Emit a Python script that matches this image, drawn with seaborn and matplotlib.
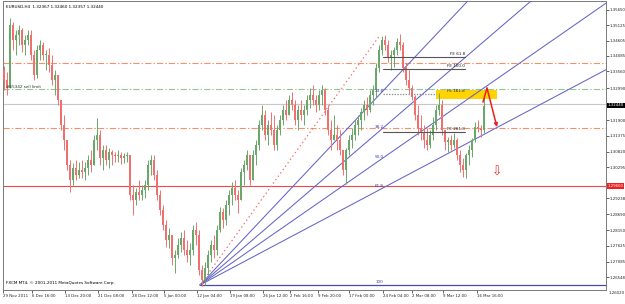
import numpy as np
import pandas as pd
import matplotlib
matplotlib.use("Agg")
import matplotlib.pyplot as plt
from matplotlib.patches import Rectangle
import seaborn as sns

sns.set_theme(style="white")
plt.rcParams['font.family'] = ['DejaVu Sans']
plt.rcParams['lines.scale_dashes'] = False

# ---------------- data (EURUSD H4, sampled every 3 bars) ----------------
first_open = 1.3360
highs = [1.3374, 1.3353, 1.3537, 1.3523, 1.3496, 1.3513, 1.3503, 1.3479, 1.3496, 1.3496,
         1.3428, 1.3445, 1.3462, 1.3455, 1.3428, 1.3435, 1.3411, 1.3360, 1.3309, 1.3258,
         1.3207, 1.3122, 1.3054, 1.3044, 1.3054, 1.3047, 1.3054, 1.3047, 1.3071, 1.3088,
         1.3139, 1.3197, 1.3156, 1.3105, 1.3105, 1.3095, 1.3088, 1.3081, 1.3088, 1.3081,
         1.3078, 1.3081, 1.3071, 1.2969, 1.2959, 1.2986, 1.2969, 1.2986, 1.3054, 1.3071,
         1.3071, 1.3020, 1.2952, 1.2901, 1.2850, 1.2823, 1.2782, 1.2748, 1.2789, 1.2809,
         1.2816, 1.2782, 1.2772, 1.2833, 1.2843, 1.2816, 1.2697, 1.2707, 1.2748, 1.2782,
         1.2799, 1.2833, 1.2894, 1.2891, 1.2918, 1.2952, 1.2979, 1.2986, 1.2952, 1.3027,
         1.3054, 1.3088, 1.3061, 1.3088, 1.3122, 1.3190, 1.3241, 1.3224, 1.3190, 1.3217,
         1.3207, 1.3173, 1.3207, 1.3241, 1.3258, 1.3275, 1.3285, 1.3258, 1.3241, 1.3258,
         1.3241, 1.3275, 1.3299, 1.3309, 1.3275, 1.3292, 1.3309, 1.3299, 1.3241, 1.3190,
         1.3207, 1.3173, 1.3156, 1.3088, 1.3095, 1.3139, 1.3163, 1.3190, 1.3207, 1.3231,
         1.3258, 1.3268, 1.3292, 1.3309, 1.3384, 1.3445, 1.3476, 1.3479, 1.3462, 1.3428,
         1.3438, 1.3469, 1.3482, 1.3455, 1.3384, 1.3360, 1.3309, 1.3275, 1.3241, 1.3207,
         1.3173, 1.3163, 1.3156, 1.3200, 1.3241, 1.3282, 1.3258, 1.3156, 1.3132, 1.3139,
         1.3146, 1.3129, 1.3088, 1.3061, 1.3078, 1.3105, 1.3129, 1.3183, 1.3190, 1.3173,
         1.3268]
lows = [1.3292, 1.3275, 1.3299, 1.3428, 1.3411, 1.3445, 1.3421, 1.3411, 1.3445, 1.3394,
        1.3326, 1.3333, 1.3394, 1.3394, 1.3360, 1.3353, 1.3309, 1.3275, 1.3241, 1.3156,
        1.3088, 1.3020, 1.2945, 1.2969, 1.2986, 1.2993, 1.2993, 1.2986, 1.3003, 1.3013,
        1.3037, 1.3088, 1.3037, 1.3020, 1.3037, 1.3027, 1.3037, 1.3047, 1.3047, 1.3040,
        1.3044, 1.3047, 1.2918, 1.2867, 1.2901, 1.2918, 1.2918, 1.2925, 1.2952, 1.3003,
        1.2986, 1.2918, 1.2867, 1.2816, 1.2758, 1.2755, 1.2697, 1.2670, 1.2721, 1.2741,
        1.2731, 1.2707, 1.2697, 1.2731, 1.2765, 1.2663, 1.2626, 1.2629, 1.2663, 1.2707,
        1.2721, 1.2731, 1.2809, 1.2823, 1.2833, 1.2867, 1.2901, 1.2918, 1.2874, 1.2918,
        1.2969, 1.3020, 1.2969, 1.2986, 1.3037, 1.3088, 1.3156, 1.3122, 1.3105, 1.3139,
        1.3088, 1.3088, 1.3139, 1.3173, 1.3190, 1.3207, 1.3224, 1.3173, 1.3156, 1.3190,
        1.3173, 1.3207, 1.3231, 1.3241, 1.3217, 1.3224, 1.3241, 1.3207, 1.3139, 1.3088,
        1.3122, 1.3088, 1.3071, 1.3003, 1.2972, 1.3071, 1.3095, 1.3122, 1.3139, 1.3156,
        1.3190, 1.3207, 1.3217, 1.3241, 1.3268, 1.3353, 1.3411, 1.3428, 1.3387, 1.3360,
        1.3370, 1.3411, 1.3428, 1.3353, 1.3309, 1.3278, 1.3258, 1.3190, 1.3139, 1.3122,
        1.3095, 1.3088, 1.3095, 1.3122, 1.3156, 1.3207, 1.3139, 1.3088, 1.3081, 1.3088,
        1.3095, 1.3054, 1.3013, 1.2996, 1.2993, 1.3037, 1.3065, 1.3115, 1.3149, 1.3132,
        1.3146]
closes = [1.3326, 1.3299, 1.3513, 1.3462, 1.3479, 1.3496, 1.3445, 1.3462, 1.3479, 1.3411,
          1.3343, 1.3428, 1.3445, 1.3411, 1.3411, 1.3377, 1.3326, 1.3343, 1.3258, 1.3173,
          1.3122, 1.3037, 1.2986, 1.3027, 1.3003, 1.3020, 1.3013, 1.3027, 1.3054, 1.3037,
          1.3122, 1.3139, 1.3061, 1.3088, 1.3054, 1.3081, 1.3071, 1.3068, 1.3071, 1.3061,
          1.3068, 1.3071, 1.2935, 1.2918, 1.2945, 1.2935, 1.2952, 1.2969, 1.3037, 1.3054,
          1.3003, 1.2935, 1.2884, 1.2833, 1.2782, 1.2799, 1.2721, 1.2731, 1.2765, 1.2789,
          1.2748, 1.2731, 1.2748, 1.2816, 1.2799, 1.2680, 1.2646, 1.2687, 1.2731, 1.2765,
          1.2748, 1.2816, 1.2877, 1.2850, 1.2901, 1.2935, 1.2959, 1.2935, 1.2918, 1.3013,
          1.3037, 1.3071, 1.2986, 1.3071, 1.3105, 1.3173, 1.3207, 1.3139, 1.3173, 1.3156,
          1.3105, 1.3156, 1.3190, 1.3224, 1.3207, 1.3258, 1.3241, 1.3190, 1.3224, 1.3207,
          1.3224, 1.3258, 1.3275, 1.3258, 1.3241, 1.3275, 1.3292, 1.3224, 1.3156, 1.3122,
          1.3139, 1.3122, 1.3088, 1.3020, 1.3088, 1.3122, 1.3139, 1.3173, 1.3190, 1.3217,
          1.3241, 1.3224, 1.3275, 1.3292, 1.3367, 1.3428, 1.3462, 1.3445, 1.3401, 1.3411,
          1.3428, 1.3455, 1.3445, 1.3367, 1.3326, 1.3299, 1.3268, 1.3207, 1.3163, 1.3149,
          1.3122, 1.3105, 1.3139, 1.3173, 1.3224, 1.3241, 1.3156, 1.3115, 1.3122, 1.3105,
          1.3122, 1.3071, 1.3037, 1.3020, 1.3071, 1.3088, 1.3122, 1.3166, 1.3163, 1.3156,
          1.3238]

date_labels = ["29 Nov 2011", "6 Dec 16:00", "13 Dec 20:00", "21 Dec 08:00", "28 Dec 12:00",
               "5 Jan 00:00", "12 Jan 04:00", "19 Jan 08:00", "26 Jan 12:00", "2 Feb 16:00",
               "9 Feb 20:00", "17 Feb 00:00", "24 Feb 04:00", "2 Mar 08:00", "9 Mar 12:00",
               "16 Mar 16:00"]
date_bars = [0, 29, 62, 95, 129, 161, 194, 227, 260, 287, 315, 346, 380, 409, 440, 474]

price_ticks = [1.35650, 1.35125, 1.34605, 1.34085, 1.33560, 1.32990, 1.31900, 1.31375,
               1.30820, 1.30295, 1.29238, 1.28690, 1.28150, 1.27625, 1.27085, 1.26548]

bid_price = 1.3244
orange_levels = [1.3384, 1.3163]
green_level = 1.3295
red_level = 1.2966

# Fibonacci fan: anchor A (low) and B (high)
fan_a = (197, 1.2629)
fan_b = (377, 1.3479)
fan_levels = [0.236, 0.382, 0.5, 0.618]
fan_texts = ["23.6", "38.2", "50.0", "61.8"]

# Fibonacci expansion
fe_levels = [1.3404, 1.3363, 1.3278, 1.3149]
fe_texts = ["FE 61.8", "FE 100.0", "FE 161.8", "FE 261.8"]
fe_start, fe_end = 380, 462

zone_x = (433, 494)
zone_price = (1.3261, 1.3292)

zig_x = [480, 484, 494]
zig_p = [1.3251, 1.3299, 1.3166]

# ---------------- figure ----------------
RED = '#f07070'
GREEN = '#6aa86a'
BLUE = '#6464c8'
SMALL = 3.0
TICK = 2.8

fig = plt.figure(figsize=(6.25, 3.04), dpi=100)
ax = fig.add_axes([3/625, 1-290/304, 603/625, 289/304])
ax.set_facecolor('white')
XMAX = 603
ax.set_xlim(0, XMAX)
ax.set_ylim(1.2612, 1.3595)

# yellow zone
ax.add_patch(Rectangle((zone_x[0], zone_price[0]), zone_x[1]-zone_x[0],
                       zone_price[1]-zone_price[0], color='#ffd400', lw=0, zorder=1))

# horizontal levels
dashdot = (0, (4.5, 1.5, 1, 1.5))
for lv in orange_levels:
    ax.axhline(lv, color='#f4906a', lw=0.8, ls=dashdot, zorder=2)
ax.axhline(green_level, color='#90c890', lw=0.8, ls=dashdot, zorder=2)
ax.axhline(bid_price, color='#c8c8c8', lw=0.8, zorder=2)
ax.axhline(red_level, color='#f04848', lw=0.8, zorder=2)

# fan lines via seaborn
xa, pa = fan_a
xb, pb = fan_b
rows = []
for lv in fan_levels:
    p_at_b = pb - lv * (pb - pa)
    slope = (p_at_b - pa) / (xb - xa)
    rows.append(dict(level=lv, x=xa, price=pa))
    rows.append(dict(level=lv, x=XMAX, price=pa + slope * (XMAX - xa)))
fan_df = pd.DataFrame(rows)
sns.lineplot(data=fan_df, x='x', y='price', units='level', estimator=None,
             color=BLUE, lw=0.75, ax=ax, zorder=3)
ax.plot([xa, XMAX], [pa, pa], color='#4a4aa8', lw=0.9, zorder=3)
ax.plot([xa, xb], [pa, pb], color='#f07070', lw=0.9, ls=(0, (1, 2)), zorder=3)
for lv, t in zip(fan_levels, fan_texts):
    ax.text(xb + 4, pb - lv * (pb - pa) + 0.0004, t, fontsize=SMALL, color='#3a3aa0',
            ha='right', va='bottom', zorder=6)
ax.text(xb + 3, pa + 0.0004, "100", fontsize=SMALL, color='#3a3aa0', ha='right',
        va='bottom', zorder=6)

# candles
n = len(closes)
xpos = np.arange(n) * 3 + 1
opens = [first_open] + closes[:-1]
df = pd.DataFrame(dict(x=xpos, o=opens, h=highs, l=lows, c=closes))
df['h'] = df[['h', 'o', 'c']].max(axis=1)
df['l'] = df[['l', 'o', 'c']].min(axis=1)
cols = np.where(df.c >= df.o, GREEN, RED)
ax.vlines(df.x, df.l, df.h, colors=cols, lw=0.7, zorder=4)
body = (df.c - df.o).abs().clip(lower=0.00025)
ax.bar(df.x, body, bottom=np.minimum(df.o, df.c), width=2.0, color=cols, lw=0, zorder=4)

# Fibonacci expansion lines
for i, (lv, t) in enumerate(zip(fe_levels, fe_texts)):
    if i == 2:
        ax.plot([fe_start, zone_x[0]], [lv, lv], color='#909090', lw=0.9,
                ls=(0, (1, 1)), zorder=5)
    else:
        ax.plot([fe_start, fe_end], [lv, lv], color='#555555', lw=0.8, zorder=5)
    ax.text(fe_end, lv + 0.0003, t, fontsize=SMALL, color='#202020', ha='right',
            va='bottom', zorder=6)

# red zigzag projection
ax.plot(zig_x[:2], zig_p[:2], color='#e82020', lw=1.1, zorder=6)
ax.annotate('', xy=(zig_x[2], zig_p[2]), xytext=(zig_x[1], zig_p[1]),
            arrowprops=dict(arrowstyle='-|>', color='#e82020', lw=1.1,
                            mutation_scale=5, shrinkA=0, shrinkB=0), zorder=6)
ax.text(494, 1.3013, '\u21e9', fontsize=9, color='#e83030', ha='center', va='center',
        zorder=6)

# texts
ax.text(3, green_level + 0.0002, "#65342 sell limit", fontsize=SMALL, color='#303030',
        ha='left', va='bottom', zorder=6)
ax.text(0.005, 0.985, "EURUSD,H4  1.32367 1.32460 1.32357 1.32440", transform=ax.transAxes,
        fontsize=SMALL, color='black', ha='left', va='top', zorder=7)
ax.text(0.005, 0.018, "FXCM MT4, \u00a9 2001-2011 MetaQuotes Software Corp.",
        transform=ax.transAxes, fontsize=SMALL, color='black', ha='left', va='bottom',
        zorder=7)

# axes styling
for s in ax.spines.values():
    s.set_color('#7a7a7a')
    s.set_linewidth(0.7)
ax.yaxis.tick_right()
ax.set_yticks(price_ticks)
ax.set_yticklabels([f"{v:.5f}" for v in price_ticks])
ax.tick_params(axis='y', which='both', right=True, length=2, width=0.5, pad=0.5,
               labelsize=TICK, colors='#222222')
ax.set_xticks(date_bars)
ax.set_xticklabels(date_labels, ha='left')
ax.tick_params(axis='x', which='both', bottom=True, length=2, width=0.5, pad=1,
               labelsize=TICK, colors='#222222')
ax.set_xlabel('')
ax.set_ylabel('')
ax.grid(False)

ytrans = ax.get_yaxis_transform()
ax.text(1.003, bid_price - 0.0004, "1.32440", transform=ytrans, fontsize=TICK,
        color='white', ha='left', va='center', clip_on=False, zorder=8,
        bbox=dict(boxstyle='square,pad=0.15', fc='black', ec='none'))
ax.text(1.003, red_level, "1.29660", transform=ytrans, fontsize=TICK, color='white',
        ha='left', va='center', clip_on=False, zorder=8,
        bbox=dict(boxstyle='square,pad=0.15', fc='#f02020', ec='none'))
ax.text(1.004, 1.2602, "1.26020", transform=ytrans, fontsize=TICK, color='#222222',
        ha='left', va='center', clip_on=False, zorder=8)

fig.savefig('out.png', dpi=100)
